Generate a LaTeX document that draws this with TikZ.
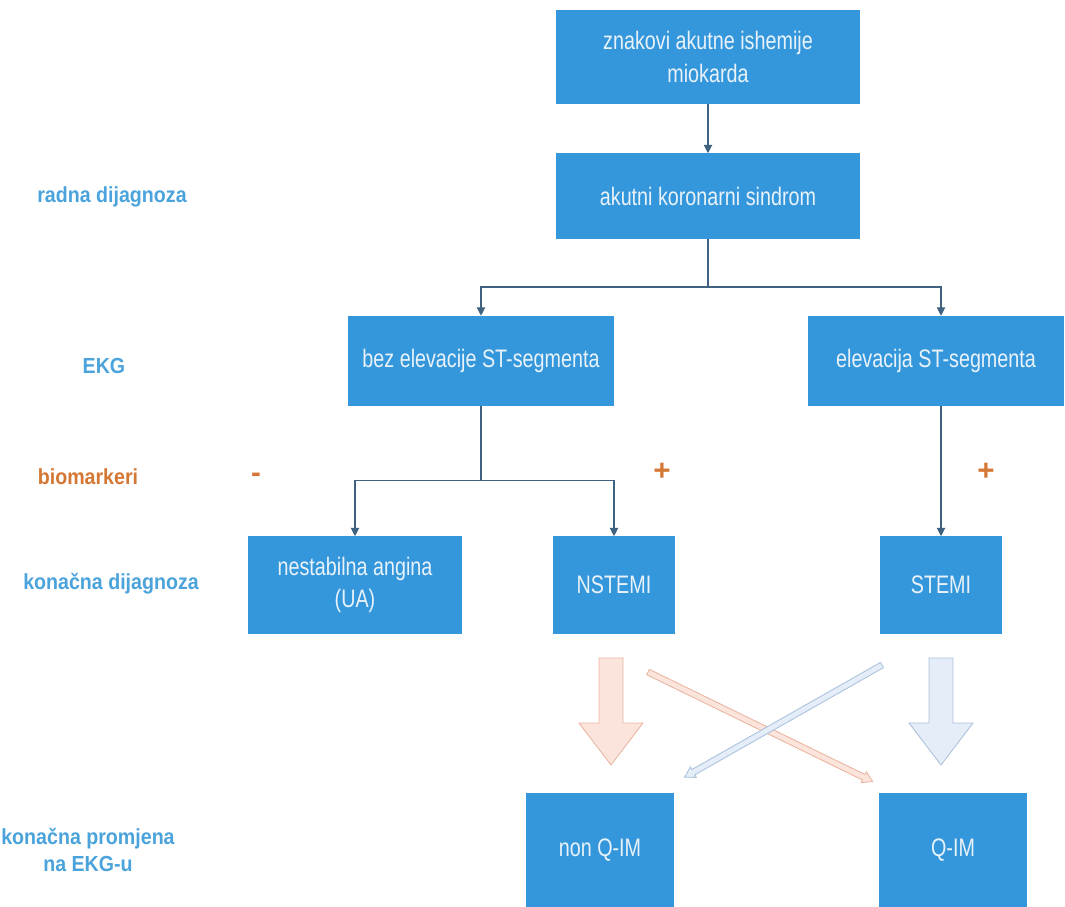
\documentclass[tikz,border=0pt]{standalone}
\usepackage{fontspec}
\setmainfont{Liberation Sans}
\newfontfamily\boxfont[FakeStretch=0.78]{Liberation Sans}
\newfontfamily\lblfont[FakeStretch=0.9]{Liberation Sans}
\usetikzlibrary{arrows.meta}
\definecolor{boxblue}{RGB}{53,151,219}
\definecolor{boxtext}{RGB}{232,242,250}
\definecolor{lblblue}{RGB}{74,163,219}
\definecolor{lblorange}{RGB}{212,118,52}
\definecolor{linegrey}{RGB}{62,98,128}
\definecolor{pinkfill}{RGB}{251,228,219}
\definecolor{pinkline}{RGB}{234,180,160}
\definecolor{bluefill}{RGB}{228,237,248}
\definecolor{blueline}{RGB}{170,192,220}

\begin{document}
\begin{tikzpicture}[x=0.025cm,y=-0.025cm,
  box/.style={fill=boxblue,text=boxtext,font=\boxfont\fontsize{18}{23}\selectfont,align=center,inner sep=0pt},
  lbl/.style={text=lblblue,font=\lblfont\bfseries\fontsize{15.5}{19}\selectfont,align=center},
  sign/.style={text=lblorange,font=\bfseries\fontsize{21}{24}\selectfont},
  conn/.style={draw=linegrey,line width=0.8pt,-{Triangle[length=6pt,width=6pt]}},
  pinkarr/.style={fill=pinkfill,draw=pinkline,line width=0.6pt},
  bluearr/.style={fill=bluefill,draw=blueline,line width=0.6pt}]
\useasboundingbox (0,0) rectangle (1065,907);

% boxes
\node[box,minimum width=7.6cm,minimum height=2.35cm] (znak) at (708,57) {znakovi akutne ishemije\\miokarda};
\node[box,minimum width=7.6cm,minimum height=2.125cm] (aks) at (708,196) {akutni koronarni sindrom};
\node[box,minimum width=6.625cm,minimum height=2.25cm] (bez) at (481,361) {bez elevacije ST-segmenta};
\node[box,minimum width=6.4cm,minimum height=2.25cm] (elev) at (936,361) {elevacija ST-segmenta};
\node[box,minimum width=5.35cm,minimum height=2.425cm] (ua) at (355,585) {nestabilna angina\\(UA)};
\node[box,minimum width=3.05cm,minimum height=2.425cm] (nstemi) at (614,585) {NSTEMI};
\node[box,minimum width=3.05cm,minimum height=2.425cm] (stemi) at (941,585) {STEMI};
\node[box,minimum width=3.675cm,minimum height=2.85cm] (nonq) at (600,850) {non Q-IM};
\node[box,minimum width=3.675cm,minimum height=2.85cm] (qim) at (953,850) {Q-IM};

% labels
\node[lbl] (radna) at (112,197) {radna dijagnoza};
\node[lbl] (ekg) at (104,366) {EKG};
\node[lbl,text=lblorange] (bio) at (88,477) {biomarkeri};
\node[lbl] (kondij) at (111,584) {kona\v{c}na dijagnoza};
\node[lbl] (konekg) at (88,850) {kona\v{c}na promjena\\na EKG-u};
\node[sign] (minus) at (256,478) {-};
\node[sign] (plusa) at (662,472) {+};
\node[sign] (plusb) at (986,472) {+};

% connectors
\draw[conn] (znak) -- (aks);
\coordinate (split) at (708,287);
\draw[conn] (aks.south) -- (split) -| (bez.north);
\draw[conn] (split) -| (stemi.north |- elev.north);
\draw[conn] (bez.south) -- ++(0,74) -| (ua.north);
\draw[conn] (bez.south) ++(0,74) -| (nstemi.north);
\draw[conn] (elev.south -| stemi.north) -- (stemi.north);

% block arrows
\begin{scope}[shift={(611,658)}]
\draw[pinkarr] (-12,0) -- (12,0) -- (12,65) -- (32,65) -- (0,107) -- (-32,65) -- (-12,65) -- cycle;
\end{scope}
\begin{scope}[shift={(941,658)}]
\draw[bluearr] (-12,0) -- (12,0) -- (12,65) -- (32,65) -- (0,107) -- (-32,65) -- (-12,65) -- cycle;
\end{scope}
\coordinate (pinkstart) at (648,672);
\coordinate (bluestart) at (882,665);
\begin{scope}[shift={(pinkstart)},rotate=-26]
\draw[pinkarr] (0,-3) -- (240,-3) -- (240,-6) -- (250,0) -- (240,6) -- (240,3) -- (0,3) -- cycle;
\end{scope}
\begin{scope}[shift={(bluestart)},rotate=-150.4]
\draw[bluearr] (0,-3) -- (217,-3) -- (217,-6) -- (227,0) -- (217,6) -- (217,3) -- (0,3) -- cycle;
\end{scope}
\end{tikzpicture}
\end{document}
